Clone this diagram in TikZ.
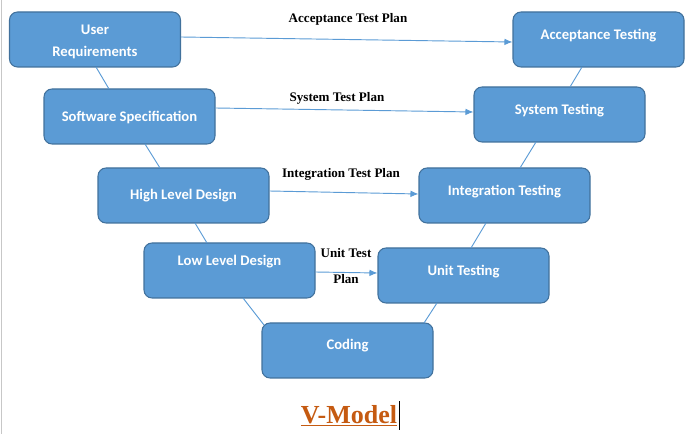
\documentclass[tikz,border=0pt]{standalone}
\usepackage{fontspec}
\setmainfont{Liberation Serif}
\newfontfamily\boxfont{Carlito}
\usetikzlibrary{arrows.meta}
\definecolor{boxfill}{HTML}{5B9BD5}
\definecolor{boxline}{HTML}{41719C}
\definecolor{linkcol}{HTML}{5B9BD5}
\definecolor{titlecol}{HTML}{C55A11}
\begin{document}
\begin{tikzpicture}[x=0.75pt,y=-0.75pt,
  vbox/.style={draw=boxline,line width=0.8pt,fill=boxfill,rounded corners=6pt,minimum width=128.25pt,minimum height=41.25pt,inner sep=0pt},
  boxtext/.style={text=white,font=\boxfont\bfseries\fontsize{11}{13}\selectfont,align=center},
  link/.style={draw=linkcol,line width=0.7pt},
  plan/.style={draw=linkcol,line width=0.7pt,-{Latex[length=6pt,width=5pt]}},
  lbl/.style={font=\bfseries\fontsize{9.8}{12}\selectfont,inner sep=0pt}]
\useasboundingbox (0,0) rectangle (685,434);
\draw[color=black!22,line width=0.8pt] (1.5,0) -- (1.5,434);
% boxes
\node[vbox] (ur) at (95,39.5) {};
\node[vbox] (at) at (598.5,39.5) {};
\node[vbox] (ss) at (129.5,116.5) {};
\node[vbox] (st) at (559.5,114.5) {};
\node[vbox] (hld) at (183.5,195.5) {};
\node[vbox] (it) at (504.5,195.5) {};
\node[vbox] (lld) at (229.5,270.5) {};
\node[vbox] (ut) at (463.5,275.5) {};
\node[vbox] (cod) at (347.5,350.5) {};
% box texts
\node[boxtext] (urt) at (95,42) {User\\[3pt]Requirements};
\node[boxtext] (att) at (598.5,36) {Acceptance Testing};
\node[boxtext] (sst) at (129.5,117) {Software Specification};
\node[boxtext] (stt) at (559.5,111) {System Testing};
\node[boxtext] (hldt) at (183.5,196) {High Level Design};
\node[boxtext] (itt) at (504.5,192) {Integration Testing};
\node[boxtext] (lldt) at (229.5,262) {Low Level Design};
\node[boxtext] (utt) at (463.5,272) {Unit Testing};
\node[boxtext] (codt) at (347.5,346) {Coding};
% V links
\draw[link] (96,67) -- (109,89);
\draw[link] (145,144) -- (160,168);
\draw[link] (195,223) -- (207,243);
\draw[link] (243,298) -- (264,325);
\draw[link] (424,323) -- (437,303);
\draw[link] (471,248) -- (486,223);
\draw[link] (520,168) -- (536,142);
\draw[link] (570,87) -- (582,67);
% plan arrows
\draw[plan] (ur.east |- 0,37) -- (at.west |- 0,42);
\draw[plan] (ss.east |- 0,108) -- (st.west |- 0,112);
\draw[plan] (hld.east |- 0,191) -- (it.west |- 0,194);
\draw[plan] (lld.east |- 0,272) -- (ut.west |- 0,273);
% labels
\node[lbl] (l1) at (348,19.5) {Acceptance Test Plan};
\node[lbl] (l2) at (337,98.5) {System Test Plan};
\node[lbl] (l3) at (341,174.5) {Integration Test Plan};
\node[lbl] (l4a) at (346,253.5) {Unit Test};
\node[lbl] (l4b) at (346,279.5) {Plan};
% title
\node[text=titlecol,font=\bfseries\fontsize{19.5}{22}\selectfont,inner sep=0pt] (title) at (349,416) {\underline{V-Model}};
\draw[black,line width=0.6pt] (399,401) -- (399,430);
\end{tikzpicture}
\end{document}
